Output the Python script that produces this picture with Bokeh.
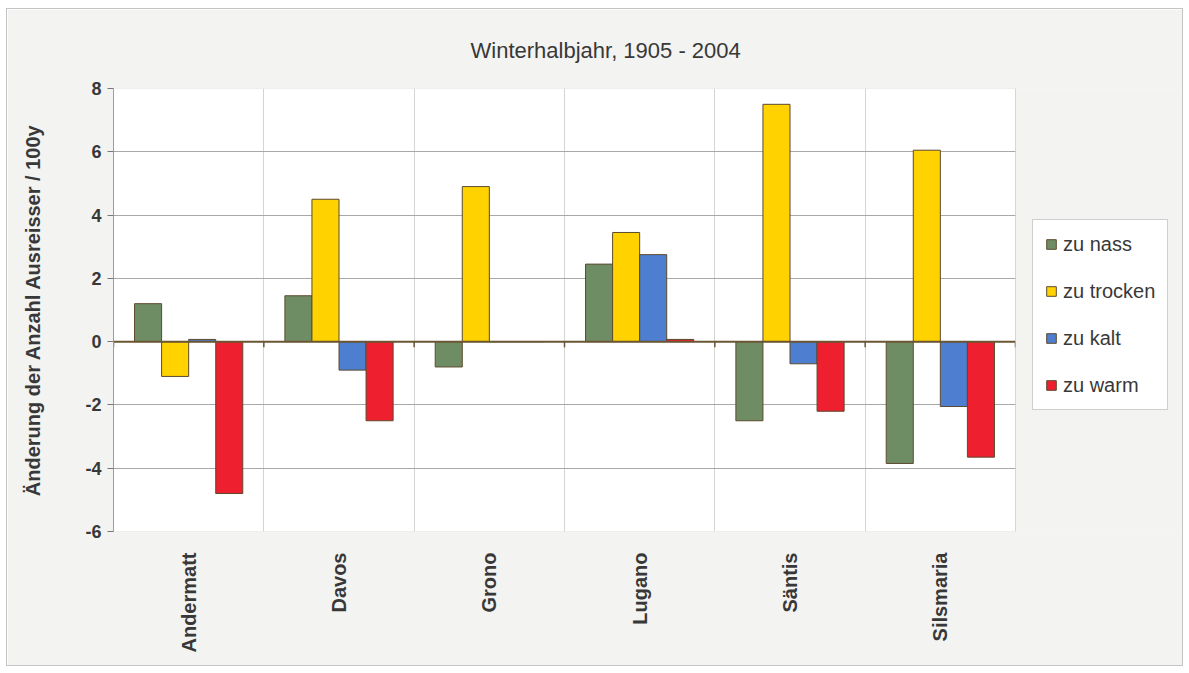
import math
from bokeh.plotting import figure
from bokeh.models import (ColumnDataSource, Range1d, FixedTicker, Legend, LegendItem, BoxAnnotation)
from bokeh.transform import dodge
from bokeh.embed import file_html
from bokeh.resources import INLINE

stations = ["Andermatt", "Davos", "Grono", "Lugano", "Säntis", "Silsmaria"]
zu_nass = [1.2, 1.45, -0.8, 2.45, -2.5, -3.85]
zu_trocken = [-1.1, 4.5, 4.9, 3.45, 7.5, 6.05]
zu_kalt = [0.07, -0.9, 0.0, 2.75, -0.7, -2.05]
zu_warm = [-4.8, -2.5, 0.0, 0.07, -2.2, -3.65]
series_names = ["zu nass", "zu trocken", "zu kalt", "zu warm"]
colors = ["#6f8d64", "#ffd200", "#4d7ed0", "#ee1f2e"]
y_ticks = [-6, -4, -2, 0, 2, 4, 6, 8]
Y_MIN, Y_MAX = -6, 8

n = len(stations)
pos = [i + 0.5 for i in range(n)]
src = ColumnDataSource(dict(pos=pos, nass=zu_nass, trocken=zu_trocken,
                            kalt=zu_kalt, warm=zu_warm))

FONT = "Liberation Sans"
BG = "#f3f3f1"

# frame extends right so the legend can sit beside the plot area
PLOT_W, FRAME_W = 902, 1071
p = figure(width=1177, height=658, output_backend="svg", toolbar_location=None,
           x_range=Range1d(0, n * FRAME_W / PLOT_W), y_range=Range1d(Y_MIN, Y_MAX),
           min_border_left=106, min_border_right=0, min_border_top=79,
           min_border_bottom=136)
p.background_fill_color = BG
p.border_fill_color = BG
p.outline_line_color = None
p.styles = {"margin-left": "6px", "margin-top": "8px", "border": "1px solid #c4c4c4"}

# white plot area (below the grid), cover right of plot area, outline on top
p.add_layout(BoxAnnotation(left=0, right=n, bottom=Y_MIN, top=Y_MAX, fill_color="white",
                           fill_alpha=1, line_color=None, level="image"))
p.add_layout(BoxAnnotation(left=n, fill_color=BG, fill_alpha=1, line_color=None,
                           level="glyph"))
p.add_layout(BoxAnnotation(left=0, right=n, bottom=Y_MIN, top=Y_MAX, fill_alpha=0,
                           line_color="#b5b5b5", line_width=1, level="overlay"))

p.title.text = "Winterhalbjahr, 1905 - 2004"
p.title.align = "left"
p.title.offset = 357
p.title.text_font = FONT
p.title.text_font_size = "22px"
p.title.text_font_style = "normal"
p.title.text_color = "#383838"
p.title.standoff = 52

fields = ["nass", "trocken", "kalt", "warm"]
offsets = [-0.27, -0.09, 0.09, 0.27]
renderers = []
for f, off, c in zip(fields, offsets, colors):
    r = p.vbar(x=dodge("pos", off), top=f, bottom=0, width=0.18, source=src,
               fill_color=c, line_color="#5c4a2e", line_width=1)
    renderers.append(r)

# zero line and small ticks at category boundaries
bounds = list(range(n + 1))
p.segment(x0=[0], x1=[n], y0=[0], y1=[0], line_color="#6b5633", line_width=2)
p.segment(x0=bounds, x1=bounds, y0=[0] * len(bounds), y1=[-0.18] * len(bounds),
          line_color="#6b5633", line_width=1.5)

# grids
p.ygrid.ticker = FixedTicker(ticks=y_ticks)
p.ygrid.grid_line_color = "#a8a8a8"
p.ygrid.grid_line_width = 1
p.xgrid.ticker = FixedTicker(ticks=bounds)
p.xgrid.grid_line_color = "#d4d4d4"

# y axis
p.yaxis.ticker = FixedTicker(ticks=y_ticks)
p.yaxis.major_label_overrides = {t: str(t) for t in y_ticks}
p.yaxis.axis_label = "Änderung der Anzahl Ausreisser / 100y"
p.yaxis.axis_label_text_font = FONT
p.yaxis.axis_label_text_font_size = "20px"
p.yaxis.axis_label_text_font_style = "bold"
p.yaxis.axis_label_text_color = "#383838"
p.yaxis.axis_label_standoff = 38
p.yaxis.major_label_text_font = FONT
p.yaxis.major_label_text_font_size = "18px"
p.yaxis.major_label_text_font_style = "bold"
p.yaxis.major_label_text_color = "#383838"
p.yaxis.major_label_standoff = 6
p.yaxis.axis_line_color = "#9a9a9a"
p.yaxis.major_tick_line_color = "#777777"
p.yaxis.major_tick_out = 6
p.yaxis.major_tick_in = 0
p.yaxis.minor_tick_line_color = None

# x axis (category labels)
p.xaxis.ticker = FixedTicker(ticks=pos)
p.xaxis.major_label_overrides = {x: s for x, s in zip(pos, stations)}
p.xaxis.major_label_orientation = math.pi / 2
p.xaxis.major_label_text_font = FONT
p.xaxis.major_label_text_font_size = "20px"
p.xaxis.major_label_text_font_style = "bold"
p.xaxis.major_label_text_color = "#383838"
p.xaxis.major_label_standoff = 15
p.xaxis.axis_line_color = None
p.xaxis.major_tick_line_color = None
p.xaxis.minor_tick_line_color = None

legend = Legend(items=[LegendItem(label=nm, renderers=[r]) for nm, r in zip(series_names, renderers)],
                location=(919, 121))
legend.label_text_font = FONT
legend.label_text_font_size = "20px"
legend.label_text_color = "#383838"
legend.glyph_width = 12
legend.glyph_height = 12
legend.label_height = 24
legend.spacing = 23
legend.padding = 12
legend.margin = 0
legend.border_line_color = "#a0a0a0"
legend.background_fill_color = "white"
legend.label_standoff = 6
p.add_layout(legend)

open("out.html", "w").write(file_html(p, INLINE))
